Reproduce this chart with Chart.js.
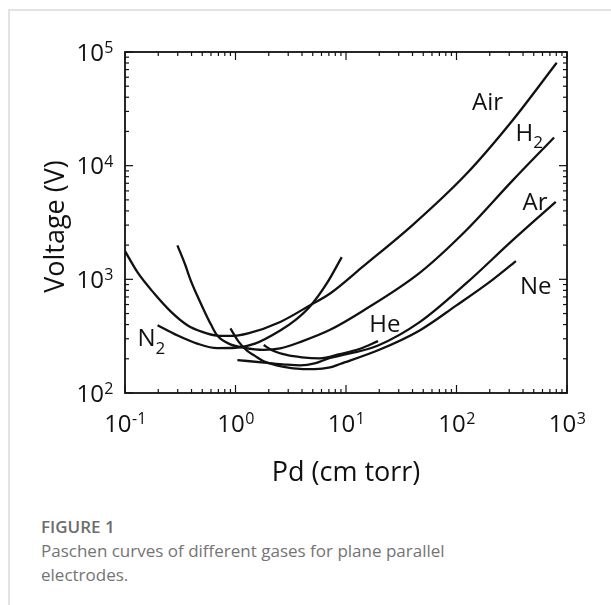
<!DOCTYPE html>
<html>
<head>
<meta charset="utf-8">
<script src="https://cdn.jsdelivr.net/npm/chart.js@4.4.0/dist/chart.umd.min.js"></script>
<style>
  html, body { margin: 0; padding: 0; background: #fff; }
  body { width: 611px; height: 605px; position: relative; overflow: hidden; font-family: "Open Sans", sans-serif; }
  .card { position: absolute; left: 8px; top: 9px; width: 620px; height: 620px; border-top: 2px solid #e2e2e2; border-left: 2px solid #e2e2e2; }
  #wrap { position: absolute; left: 0; top: 0; width: 611px; height: 500px; }
  .caption { position: absolute; left: 41px; top: 515px; color: #747474; font-size: 17px; line-height: 24px; }
  .caption b { font-weight: 600; color: #6c6c6c; }
</style>
</head>
<body>
<div class="card"></div>
<div id="wrap"><canvas id="paschen"></canvas></div>
<div class="caption"><b>FIGURE 1</b><br>Paschen curves of different gases for plane parallel<br>electrodes.</div>
<script>
// Paschen curves (Pd in cm torr, breakdown voltage in V)
const airPd = [0.1, 0.13, 0.184, 0.26, 0.367, 0.5, 0.684, 0.9, 1.3, 2.54, 4.74, 7.18, 14.3, 40, 122, 321, 807];
const airV  = [1770, 1150, 750, 520, 395, 345, 320, 318, 335, 422, 592, 750, 1300, 3000, 8400, 25000, 80500];

const n2Pd = [0.197, 0.3, 0.45, 0.684, 1.0, 1.5, 2.54, 3.5, 4.74, 6.7, 9.15];
const n2V  = [395, 320, 272, 248, 250, 272, 355, 440, 580, 920, 1570];

const h2Pd = [0.298, 0.35, 0.393, 0.45, 0.518, 0.6, 0.684, 0.9, 1.2, 1.8, 2.54, 4, 7.18, 14.3, 46.4, 122, 321, 764];
const h2V  = [1990, 1350, 980, 720, 535, 400, 320, 268, 250, 240, 247, 285, 360, 530, 1140, 2690, 7380, 17700];

const nePd = [0.9, 1.07, 1.27, 1.5, 1.8, 2.3, 2.82, 3.85, 5.2, 7.18, 8.83, 20, 46.4, 100, 200, 345];
const neV  = [370, 282, 236, 212, 190, 176, 169, 163, 162, 168, 180, 240, 355, 590, 950, 1448];

const arPd = [1.04, 1.93, 2.8, 3.85, 5.2, 7.18, 8.83, 19.5, 46.4, 122, 321, 791];
const arV  = [195, 184, 178, 175, 182, 204, 213, 262, 420, 920, 2200, 4800];

const hePd = [1.8, 2.14, 2.9, 4, 5.8, 8.8, 13.4, 19.5];
const heV  = [264, 238, 216, 206, 202, 220, 245, 286];

// axis decades (powers of ten)
const xPowers = [-1, 0, 1, 2, 3];
const yPowers = [2, 3, 4, 5];

// curve labels: text, subscript, Pd, V
const labelText = ['Air', 'H', 'Ar', 'Ne', 'He', 'N'];
const labelSub  = ['', '2', '', '', '', '2'];
const labelPd   = [191, 455, 513, 522, 22.5, 0.173];
const labelV    = [36800, 19700, 4850, 881, 405, 307];

const FONT = '"Open Sans", "Noto Sans", sans-serif';

function toPoints(pd, v) {
  return pd.map((x, i) => ({ x: x, y: v[i] }));
}

function curve(pd, v) {
  return {
    data: toPoints(pd, v),
    showLine: true,
    borderColor: '#111',
    borderWidth: 2.3,
    pointRadius: 0,
    fill: false,
    cubicInterpolationMode: 'monotone'
  };
}

function powLabel(ctx, p, x, y, align) {
  const base = '10';
  const sup = p < 0 ? '-' + (-p) : String(p);
  ctx.font = '24px ' + FONT;
  const wb = ctx.measureText(base).width;
  ctx.font = '16px ' + FONT;
  const ws = ctx.measureText(sup).width;
  const left = align === 'right' ? x - wb - ws : x - (wb + ws) / 2;
  ctx.textAlign = 'left';
  ctx.textBaseline = 'alphabetic';
  ctx.font = '24px ' + FONT;
  ctx.fillText(base, left, y + 8.5);
  ctx.font = '16px ' + FONT;
  ctx.fillText(sup, left + wb + 0.5, y + 1);
}

const framePlugin = {
  id: 'frame',
  afterDraw(chart) {
    const ctx = chart.ctx;
    const a = chart.chartArea;
    const xs = chart.scales.x, ys = chart.scales.y;
    ctx.save();
    ctx.strokeStyle = '#111';
    ctx.fillStyle = '#111';
    ctx.lineWidth = 1.8;
    ctx.strokeRect(a.left, a.top, a.right - a.left, a.bottom - a.top);

    ctx.lineWidth = 1.2;
    function line(x1, y1, x2, y2) {
      ctx.beginPath(); ctx.moveTo(x1, y1); ctx.lineTo(x2, y2); ctx.stroke();
    }
    // x ticks, inward, bottom and top
    xPowers.forEach((p, i) => {
      const d = Math.pow(10, p);
      const px = xs.getPixelForValue(d);
      line(px, a.bottom, px, a.bottom - 8);
      line(px, a.top, px, a.top + 8);
      if (i < xPowers.length - 1) {
        for (let m = 2; m <= 9; m++) {
          const q = xs.getPixelForValue(d * m);
          line(q, a.bottom, q, a.bottom - 4);
          line(q, a.top, q, a.top + 4);
        }
      }
      powLabel(ctx, p, px, a.bottom + 30, 'center');
    });
    // y ticks, inward, left and right
    yPowers.forEach((p, i) => {
      const d = Math.pow(10, p);
      const py = ys.getPixelForValue(d);
      line(a.left, py, a.left + 8, py);
      line(a.right, py, a.right - 8, py);
      if (i < yPowers.length - 1) {
        for (let m = 2; m <= 9; m++) {
          const q = ys.getPixelForValue(d * m);
          line(a.left, q, a.left + 4, q);
          line(a.right, q, a.right - 4, q);
        }
      }
      powLabel(ctx, p, a.left - 12, py, 'right');
    });

    // axis titles
    ctx.font = '27px ' + FONT;
    ctx.textAlign = 'center';
    ctx.textBaseline = 'middle';
    ctx.fillText('Pd (cm torr)', (a.left + a.right) / 2, a.bottom + 80);
    ctx.save();
    ctx.translate(56, (a.top + a.bottom) / 2 + 4);
    ctx.rotate(-Math.PI / 2);
    ctx.fillText('Voltage (V)', 0, 0);
    ctx.restore();

    // curve labels
    labelText.forEach((t, i) => {
      const cx = xs.getPixelForValue(labelPd[i]);
      const cy = ys.getPixelForValue(labelV[i]);
      ctx.font = '24px ' + FONT;
      const wm = ctx.measureText(t).width;
      ctx.font = '17px ' + FONT;
      const wsub = labelSub[i] ? ctx.measureText(labelSub[i]).width : 0;
      const left = cx - (wm + wsub) / 2;
      ctx.textAlign = 'left';
      ctx.textBaseline = 'alphabetic';
      ctx.font = '24px ' + FONT;
      ctx.fillText(t, left, cy + 8.5);
      if (labelSub[i]) {
        ctx.font = '17px ' + FONT;
        ctx.fillText(labelSub[i], left + wm, cy + 16);
      }
    });
    ctx.restore();
  }
};

new Chart(document.getElementById('paschen'), {
  type: 'scatter',
  data: {
    datasets: [
      curve(airPd, airV),
      curve(n2Pd, n2V),
      curve(h2Pd, h2V),
      curve(nePd, neV),
      curve(arPd, arV),
      curve(hePd, heV)
    ]
  },
  options: {
    responsive: true,
    maintainAspectRatio: false,
    animation: false,
    layout: { padding: { left: 125, right: 44, top: 52, bottom: 107 } },
    plugins: { legend: { display: false }, tooltip: { enabled: false } },
    scales: {
      x: { type: 'logarithmic', min: 0.1, max: 1000, display: false },
      y: { type: 'logarithmic', min: 100, max: 100000, display: false }
    }
  },
  plugins: [framePlugin]
});
</script>
</body>
</html>
